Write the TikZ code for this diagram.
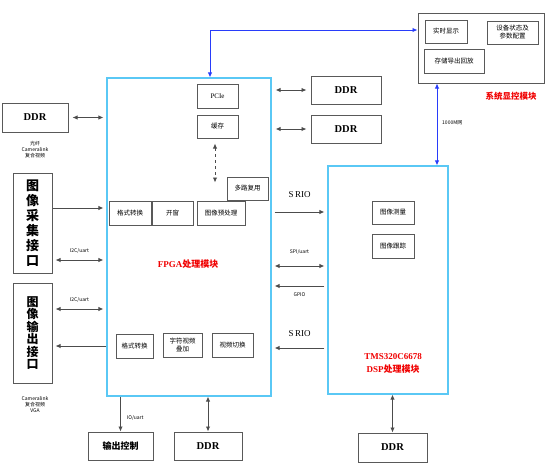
\documentclass[tikz,border=0pt]{standalone}
\usepackage{fontspec}
\setmainfont{Liberation Serif}
\newfontfamily\cjk{Noto Sans CJK SC}
\usetikzlibrary{arrows.meta, positioning, calc}
\definecolor{fpgablue}{RGB}{90, 200, 245}
\definecolor{linkblue}{RGB}{40, 60, 250}
\definecolor{lblred}{RGB}{240, 0, 0}

\begin{document}
\begin{tikzpicture}[x=1pt, y=-1pt,
  blk/.style={draw=black!65, line width=1pt, fill=white, inner sep=1pt, align=center, font=\cjk\fontsize{6.5}{8}\selectfont},
  ddrbox/.style={blk, font=\bfseries\fontsize{10.5}{12}\selectfont},
  proc/.style={draw=fpgablue, line width=1.2pt},
  tag/.style={inner sep=0pt, align=center, font=\cjk\fontsize{5}{6}\selectfont},
  iolbl/.style={inner sep=0pt, font=\fontsize{9}{10}\selectfont},
  arr/.style={draw=black!70, line width=0.9pt, -{Latex[length=5pt, width=4.5pt]}},
  darr/.style={arr, {Latex[length=5pt, width=4.5pt]}-{Latex[length=5pt, width=4.5pt]}},
  barr/.style={draw=linkblue, line width=0.9pt, {Latex[length=5pt, width=4.5pt]}-{Latex[length=5pt, width=4.5pt]}}
]
  \useasboundingbox (0,0) rectangle (548,463);

  % processing modules
  \node[proc, minimum width=164pt, minimum height=318pt] (fpga) at (189,237) {};
  \node[proc, minimum width=120pt, minimum height=228pt] (dsp) at (388,280) {};

  % display and control
  \node[blk, minimum width=126pt, minimum height=70pt] (sys) at (481,48) {};
  \node[blk, minimum width=42pt, minimum height=23pt] (disp) at (446,31.5) {实时显示};
  \node[blk, minimum width=51pt, minimum height=23pt] (cfg) at (512.5,32.5) {设备状态及\\参数配置};
  \node[blk, minimum width=60pt, minimum height=24pt] (store) at (454,61) {存储导出回放};
  \node[inner sep=0pt, text=lblred, font=\cjk\bfseries\fontsize{8.5}{10}\selectfont] (syslbl) at (511,96) {系统显控模块};

  % inside FPGA
  \node[blk, minimum width=41pt, minimum height=24pt, font=\fontsize{7}{8}\selectfont] (pcie) at (217.5,96) {PCIe};
  \node[blk, minimum width=41pt, minimum height=23pt] (cache) at (217.5,126.5) {缓存};
  \node[blk, minimum width=41pt, minimum height=23pt] (mux) at (247.5,188.5) {多路复用};
  \node[blk, minimum width=42pt, minimum height=24pt] (fmtin) at (130,213) {格式转换};
  \node[blk, minimum width=41pt, minimum height=24pt] (win) at (172.5,213) {开窗};
  \node[blk, minimum width=48pt, minimum height=24pt] (pre) at (221,213) {图像预处理};
  \node[blk, minimum width=37pt, minimum height=24pt] (fmtout) at (134.5,346) {格式转换};
  \node[blk, minimum width=39pt, minimum height=24pt] (osd) at (182.5,345) {字符视频\\叠加};
  \node[blk, minimum width=41pt, minimum height=24pt] (sw) at (232.5,345) {视频切换};
  \node[inner sep=0pt, text=lblred, font=\bfseries\fontsize{9}{10}\selectfont] (fpgalbl) at (188,264) {FPGA{\cjk 处理模块}};

  % inside DSP
  \node[blk, minimum width=42pt, minimum height=23pt] (meas) at (393,212.5) {图像测量};
  \node[blk, minimum width=42pt, minimum height=24pt] (track) at (393,246) {图像跟踪};
  \node[inner sep=0pt, align=center, text=lblred, font=\bfseries\fontsize{9}{13}\selectfont] (dsplbl) at (393,363) {TMS320C6678\\DSP{\cjk 处理模块}};

  % memories and interfaces
  \node[ddrbox, minimum width=66pt, minimum height=29pt] (ddrL) at (35,117.5) {DDR};
  \node[ddrbox, minimum width=70pt, minimum height=28pt] (ddrR1) at (346,90) {DDR};
  \node[ddrbox, minimum width=70pt, minimum height=28pt] (ddrR2) at (346,129) {DDR};
  \node[ddrbox, minimum width=68pt, minimum height=28pt] (ddrB) at (208,446) {DDR};
  \node[ddrbox, minimum width=69pt, minimum height=29pt] (ddrD) at (392.5,447.5) {DDR};
  \node[blk, minimum width=65pt, minimum height=28pt, font=\cjk\bfseries\fontsize{9}{10}\selectfont] (ctrl) at (120.5,446) {输出控制};
  \node[blk, minimum width=39pt, minimum height=100pt, font=\cjk\bfseries\fontsize{13}{15}\selectfont] (cap) at (32.5,223) {图\\像\\采\\集\\接\\口};
  \node[blk, minimum width=39pt, minimum height=100pt, font=\cjk\bfseries\fontsize{12}{12.5}\selectfont] (out) at (32.5,333) {图\\像\\输\\出\\接\\口};
  \node[tag] (fiber) at (35,150) {光纤\\Cameralink\\复合视频};
  \node[tag] (cl) at (35,405) {Cameralink\\复合视频\\VGA};

  % connectors
  \draw[barr] ([xshift=21pt]fpga.north) |- ([yshift=18pt]sys.west);
  \draw[barr] ([xshift=-44pt]sys.south) -- ([xshift=-44pt]sys.south |- dsp.north);
  \node[tag, right=5pt of sys.south, xshift=-44pt, yshift=-39pt] (gige) {1000M网};

  \draw[darr, shorten <=4pt, shorten >=3pt] (ddrL.east) -- (ddrL.east -| fpga.west);
  \draw[arr, shorten >=3pt] ([yshift=15pt]cap.east) -- ([yshift=15pt]cap.east -| fpga.west);
  \draw[darr, shorten <=3pt, shorten >=3pt] ([yshift=-37pt]cap.east) -- ([yshift=-37pt]cap.east -| fpga.west)
    node[tag, midway, above=6pt] (i2cin) {I2C/uart};
  \draw[darr, shorten <=3pt, shorten >=3pt] ([yshift=24pt]out.east) -- ([yshift=24pt]out.east -| fpga.west)
    node[tag, midway, above=6pt] (i2cout) {I2C/uart};
  \draw[arr, shorten >=3pt] ([yshift=-13pt]out.east -| fpga.west) -- ([yshift=-13pt]out.east);

  \draw[darr, shorten <=4pt, shorten >=4pt] (ddrR1.west -| fpga.east) -- (ddrR1.west);
  \draw[darr, shorten <=4pt, shorten >=4pt] (ddrR2.west -| fpga.east) -- (ddrR2.west);

  \draw[arr] (ctrl.north |- fpga.south) -- (ctrl.north)
    node[tag, midway, right=6pt, yshift=-4pt] (io) {IO/uart};
  \draw[darr] (ddrB.north |- fpga.south) -- (ddrB.north);
  \draw[darr] (ddrD.north |- dsp.south) -- (ddrD.north);

  \draw[arr, shorten <=3pt, shorten >=3pt] ([yshift=68pt]dsp.west -| fpga.east) -- ([yshift=68pt]dsp.west)
    node[iolbl, midway, above=14pt] (srio1) {S\,RIO};
  \draw[darr, shorten <=3pt, shorten >=3pt] ([yshift=14pt]dsp.west -| fpga.east) -- ([yshift=14pt]dsp.west)
    node[tag, midway, above=11pt] (spi) {SPI/uart};
  \draw[arr, shorten <=3pt, shorten >=3pt] ([yshift=-6pt]dsp.west) -- ([yshift=-6pt]dsp.west -| fpga.east)
    node[tag, midway, below=6pt] (gpio) {GPIO};
  \draw[arr, shorten <=3pt, shorten >=3pt] ([yshift=-68pt]dsp.west) -- ([yshift=-68pt]dsp.west -| fpga.east)
    node[iolbl, midway, above=11pt] (srio2) {S\,RIO};

  \draw[arr, dashed, {Latex[length=5pt, width=4.5pt]}-{Latex[length=5pt, width=4.5pt]}, shorten <=5pt, shorten >=6pt]
    ([xshift=-2.5pt]cache.south) -- ([xshift=-2.5pt]cache.south |- mux.west);
\end{tikzpicture}
\end{document}
